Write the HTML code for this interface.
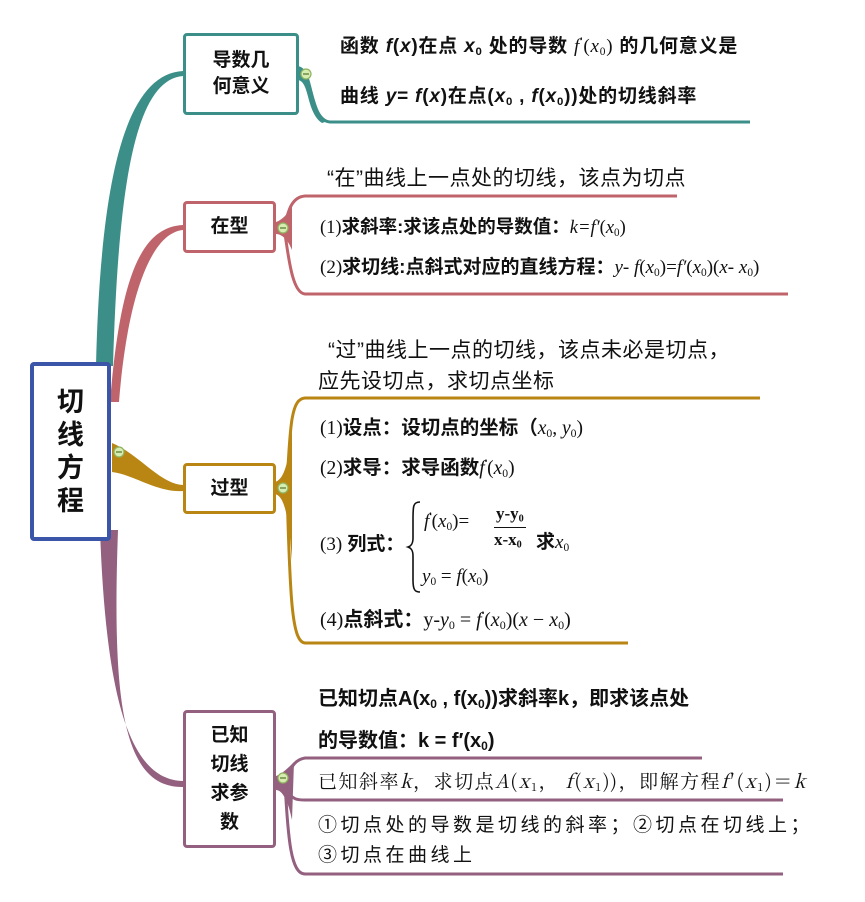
<!DOCTYPE html>
<html><head><meta charset="utf-8"><style>
body{margin:0;width:865px;height:902px;background:#fff;position:relative;overflow:hidden;font-family:"Liberation Sans","Noto Sans CJK SC",sans-serif;color:#111}
.t{position:absolute;white-space:nowrap;font-weight:bold;line-height:1}
.m{font-family:"Liberation Serif","Noto Serif CJK SC",serif;font-style:italic;font-weight:normal}
.r{font-family:"Liberation Serif","Noto Serif CJK SC",serif;font-weight:normal}
sub{font-size:0.6em;vertical-align:-0.25em}
.box{position:absolute;background:#fff;border-radius:4px;box-sizing:border-box;display:flex;align-items:center;justify-content:center;text-align:center;font-weight:bold;font-size:19px;line-height:1.35}
</style></head><body>
<svg width="865" height="902" style="position:absolute;left:0;top:0">
<path d="M96,366 C100,200 120,74 183,71 L183,76 C132,80 118,200 113,366Z" fill="#3b8f88"/>
<path d="M110,402 C120,280 140,227 183,225 L183,230 C150,233 127,300 119,402Z" fill="#c0646c"/>
<path d="M112,443 C140,455 160,484 183,485 L183,491 C158,493 132,474 112,472Z" fill="#b98614"/>
<path d="M100,530 C106,700 130,780 183,781 L183,787 C122,788 112,700 118,530Z" fill="#94607f"/>
<g fill="none" stroke-width="3">
<path d="M298,70 C314,72 309,120 330,122 L750,122" stroke="#3b8f88"/>
<path d="M677,196 L305,196 C291,197 288,212 284,228 C288,250 291,293 305,294 L788,294" stroke="#c0646c"/>
<path d="M760,398 L305,398 C292,399 290,420 287,488 C290,600 292,642 305,643 L628,643" stroke="#b98614"/>
<path d="M702,758 L305,758 C292,760 290,772 285,782 C288,840 291,874 305,874 L783,874" stroke="#94607f"/>
<path d="M287,790 C292,800 298,800 305,800 L783,800" stroke="#94607f"/>
</g>
<path d="M298,66 C316,70 308,110 328,121 L322,123 C306,112 310,82 298,80Z" fill="#3b8f88"/>
<path d="M276,222 C282,220 288,214 292,206 L292,250 C288,240 282,234 276,234Z" fill="#c0646c"/>
<path d="M275,482 C282,480 288,470 292,430 L292,560 C288,505 282,496 275,494Z" fill="#b98614"/>
<path d="M276,776 C282,774 288,768 294,762 L292,820 C288,800 282,790 276,790Z" fill="#94607f"/>
<path d="M420,502 C413,502 413,506 413,520 L413,538 C413,544 411,546 408,547 C411,548 413,550 413,556 L413,580 C413,590 415,592 420,592" fill="none" stroke="#111" stroke-width="1.6"/>
<g fill="#d6ecb0" stroke="#8fb25e" stroke-width="1.2">
<circle cx="306" cy="74" r="5"/><circle cx="283" cy="228" r="5"/><circle cx="283" cy="488" r="5"/><circle cx="283" cy="778" r="5"/><circle cx="119" cy="452" r="5"/>
</g>
<g stroke="#5a7a30" stroke-width="1.3"><path d="M303,74h6M280,228h6M280,488h6M280,778h6M116,452h6"/></g>
</svg>
<div class="box" style="left:30px;top:362px;width:81px;height:179px;border:4px solid #3b55a8;font-size:27px;line-height:33px">切<br>线<br>方<br>程</div>
<div class="box" style="left:183px;top:33px;width:116px;height:82px;border:3px solid #3b8f88">导数几<br>何意义</div>
<div class="box" style="left:183px;top:201px;width:93px;height:52px;border:3px solid #c0646c">在型</div>
<div class="box" style="left:183px;top:463px;width:93px;height:51px;border:3px solid #b98614">过型</div>
<div class="box" style="left:183px;top:710px;width:93px;height:138px;border:3px solid #94607f;line-height:29px">已知<br>切线<br>求参<br>数</div>

<div class="t" style="left:340px;top:37px;font-size:19px;letter-spacing:0.8px">函数 <i>f</i>(<i>x</i>)在点 <i>x</i><sub>0</sub> 处的导数 <span class="m">f</span><sup style="font-size:10px">'</sup><span class="r">(<i>x</i><sub>0</sub>)</span> 的几何意义是</div>
<div class="t" style="left:340px;top:87px;font-size:19px;letter-spacing:0.8px">曲线 <i>y</i>= <i>f</i>(<i>x</i>)在点(<i>x</i><sub>0</sub> , <i>f</i>(<i>x</i><sub>0</sub>))处的切线斜率</div>

<div class="t" style="left:327px;top:168px;font-size:21px;font-weight:normal;letter-spacing:0.5px">“在”曲线上一点处的切线，该点为切点</div>
<div class="t" style="left:320px;top:218px;font-size:18.5px"><span class="r">(1)</span>求斜率:求该点处的导数值：<span class="m">k=f′</span><span class="r">(<i>x</i><sub>0</sub>)</span></div>
<div class="t" style="left:320px;top:258px;font-size:19px"><span class="r">(2)</span>求切线:点斜式对应的直线方程：<span class="m">y- f</span><span class="r">(<i>x</i><sub>0</sub>)=</span><span class="m">f′</span><span class="r">(<i>x</i><sub>0</sub>)(<i>x- x</i><sub>0</sub>)</span></div>

<div class="t" style="left:328px;top:340px;font-size:21px;font-weight:normal;letter-spacing:0.5px">“过”曲线上一点的切线，该点未必是切点，</div>
<div class="t" style="left:318px;top:371px;font-size:21px;font-weight:normal;letter-spacing:0.5px">应先设切点，求切点坐标</div>
<div class="t" style="left:320px;top:419px;font-size:19.5px"><span class="r">(1)</span>设点：设切点的坐标（<span class="m">x</span><sub class="r">0</sub><span class="r">, </span><span class="m">y</span><sub class="r">0</sub><span class="r">)</span></div>
<div class="t" style="left:320px;top:459px;font-size:19.5px"><span class="r">(2)</span>求导：求导函数<span class="m">f</span><sup style="font-size:10px">'</sup><span class="r">(<i>x</i><sub>0</sub>)</span></div>
<div class="t" style="left:320px;top:535px;font-size:19px"><span class="r">(3)</span> 列式：</div>
<div class="t" style="left:424px;top:512px;font-size:19px"><span class="m">f</span><sup style="font-size:10px">'</sup><span class="r">(<i>x</i><sub>0</sub>)=</span></div>
<div class="t r" style="left:494px;top:505px;font-size:17px;font-weight:bold;border-bottom:1.5px solid #111;padding:0 2px 2px">y-y<sub>0</sub></div>
<div class="t r" style="left:494px;top:531px;font-size:17px;font-weight:bold">x-x<sub>0</sub></div>
<div class="t" style="left:536px;top:533px;font-size:19px">求<span class="m">x</span><sub class="r">0</sub></div>
<div class="t" style="left:422px;top:567px;font-size:19px"><span class="m">y</span><sub class="r">0</sub><span class="r"> = </span><span class="m">f</span><span class="r">(<i>x</i><sub>0</sub>)</span></div>
<div class="t" style="left:320px;top:610px;font-size:20px"><span class="r">(4)</span>点斜式：<span class="r">y-<i>y</i><sub>0</sub> = </span><span class="m">f</span><sup style="font-size:10px">'</sup><span class="r">(<i>x</i><sub>0</sub>)(<i>x</i> − <i>x</i><sub>0</sub>)</span></div>

<div class="t" style="left:318px;top:689px;font-size:20px">已知切点A(x<sub>0</sub> , f(x<sub>0</sub>))求斜率k，即求该点处</div>
<div class="t" style="left:318px;top:731px;font-size:20px">的导数值：k = f′(x<sub>0</sub>)</div>
<div class="t" style="left:318px;top:771px;font-size:19px;font-weight:normal;font-family:'Noto Serif CJK SC',serif;letter-spacing:1.5px">已知斜率<i>k</i>，求切点<i>A</i>(<i>x</i><sub>1</sub>， <i>f</i>(<i>x</i><sub>1</sub>))，即解方程<i>f</i>′(<i>x</i><sub>1</sub>)＝<i>k</i></div>
<div class="t" style="left:318px;top:816px;font-size:19px;font-weight:normal;letter-spacing:3.5px">①切点处的导数是切线的斜率；②切点在切线上；</div>
<div class="t" style="left:318px;top:846px;font-size:19px;font-weight:normal;letter-spacing:3.5px">③切点在曲线上</div>
</body></html>
